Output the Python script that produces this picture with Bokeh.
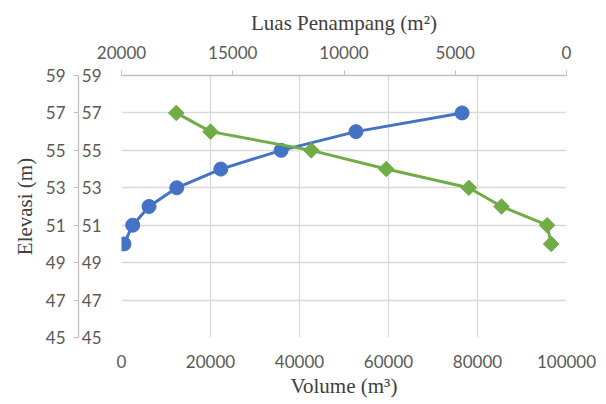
from bokeh.plotting import figure
from bokeh.models import Range1d, LinearAxis, FixedTicker, ColumnDataSource, NumeralTickFormatter
from bokeh.embed import file_html
from bokeh.resources import INLINE
import math

# Data
elev_vol = [50, 51, 52, 53, 54, 55, 56, 57]
volume = [560, 2520, 6190, 12420, 22320, 35880, 52690, 76530]

elev_area = [57, 56, 55, 54, 53, 52, 51, 50]
luas = [17540, 16000, 11470, 8100, 4390, 2920, 870, 690]

y_ticks = [45, 47, 49, 51, 53, 55, 57, 59]
x_ticks = [0, 20000, 40000, 60000, 80000, 100000]
top_ticks = [20000, 15000, 10000, 5000, 0]

BLUE = "#4472C4"
GREEN = "#70AD47"
GRID = "#d9d9d9"
AXIS = "#bfbfbf"
TICKC = "#595959"
TITLEC = "#404040"
TICK_FONT = "Lato"
TITLE_FONT = "Liberation Serif"

p = figure(width=598, height=402, output_backend="svg", toolbar_location=None,
           x_range=Range1d(0, 100000), y_range=Range1d(45, 59),
           x_axis_location=None, y_axis_location=None,
           min_border_left=121, min_border_right=32, min_border_top=75, min_border_bottom=65)
p.outline_line_color = None
p.background_fill_color = "white"
p.border_fill_color = "white"
p.extra_x_ranges = {"area": Range1d(20000, 0)}

p.xgrid.ticker = FixedTicker(ticks=x_ticks)
p.ygrid.ticker = FixedTicker(ticks=y_ticks)
p.xgrid.grid_line_color = GRID
p.ygrid.grid_line_color = GRID
p.xgrid.grid_line_width = 1.3
p.ygrid.grid_line_width = 1.3


def style(ax, tick_out, standoff):
    ax.major_label_text_font = TICK_FONT
    ax.major_label_text_font_size = "17px"
    ax.major_label_text_color = TICKC
    ax.major_tick_in = 0
    ax.major_tick_out = tick_out
    ax.minor_tick_in = 0
    ax.minor_tick_out = 0
    ax.major_tick_line_color = AXIS
    ax.axis_line_color = AXIS
    ax.major_label_standoff = standoff
    ax.axis_label_text_font = TITLE_FONT
    ax.axis_label_text_font_style = "normal"
    ax.axis_label_text_font_size = "21px"
    ax.axis_label_text_color = TITLEC


# bottom axis
bx = LinearAxis(ticker=FixedTicker(ticks=x_ticks), axis_label="Volume (m³)",
                formatter=NumeralTickFormatter(format="0"))
style(bx, 0, 17)
bx.axis_line_color = None
bx.axis_label_standoff = 3
p.add_layout(bx, "below")

# top axis (reversed area)
tx = LinearAxis(x_range_name="area", ticker=FixedTicker(ticks=top_ticks),
                axis_label="Luas Penampang (m²)", formatter=NumeralTickFormatter(format="0"))
style(tx, 5, 12)
tx.axis_line_width = 1.3
tx.axis_label_standoff = 8
p.add_layout(tx, "above")

# inner left axis (no line)
ly1 = LinearAxis(ticker=FixedTicker(ticks=y_ticks))
style(ly1, 0, 20)
ly1.axis_line_color = None
p.add_layout(ly1, "left")

# outer left axis
ly2 = LinearAxis(ticker=FixedTicker(ticks=y_ticks), axis_label="Elevasi (m)")
style(ly2, 5, 8)
ly2.axis_line_width = 1.3
ly2.axis_label_standoff = 6
p.add_layout(ly2, "left")

src_v = ColumnDataSource(dict(x=volume, y=elev_vol))
src_a = ColumnDataSource(dict(x=luas, y=elev_area))

p.line("x", "y", source=src_v, line_color=BLUE, line_width=3, line_join="round")
p.scatter("x", "y", source=src_v, marker="circle", size=14, fill_color=BLUE, line_color=BLUE)

p.line("x", "y", source=src_a, x_range_name="area", line_color=GREEN, line_width=3, line_join="round")
p.scatter("x", "y", source=src_a, x_range_name="area", marker="square", size=11,
          angle=math.pi / 4, fill_color=GREEN, line_color=GREEN)

open("out.html", "w").write(file_html(p, INLINE))
